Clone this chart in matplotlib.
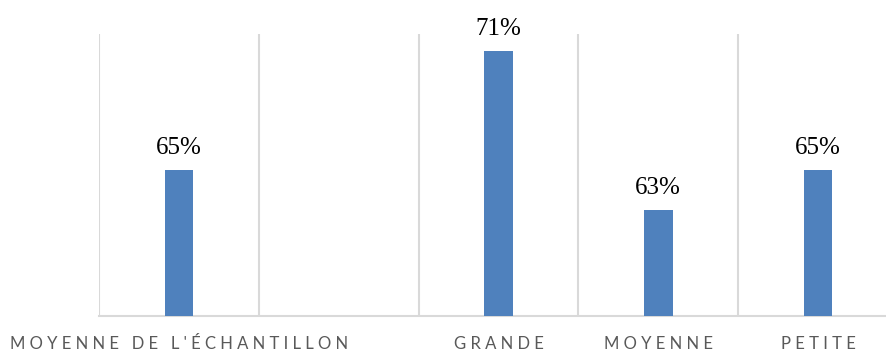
import numpy as np
import matplotlib.pyplot as plt

categories = ["MOYENNE DE L'ÉCHANTILLON", "", "GRANDE", "MOYENNE", "PETITE"]
values = [0.65, np.nan, 0.71, 0.63, 0.65]

W, H, DPI = 887, 352, 100
fig = plt.figure(figsize=(W / DPI, H / DPI), dpi=DPI)
# plot area runs past the right edge of the figure
ax = fig.add_axes([99 / W, 36 / H, 799 / W, 282 / H])

x = np.arange(len(categories))
ax.bar(x, values, width=0.18, color="#4f81bd", zorder=3)

for xi, v in zip(x, values):
    if np.isnan(v):
        continue
    ax.annotate(f"{v:.0%}", (xi, v), xytext=(0, 8), textcoords="offset points",
                ha="center", va="bottom", fontsize=18, family="Liberation Serif",
                color="black")

ax.set_xlim(-0.5, len(categories) - 0.5)
ax.set_ylim(0.5766, 0.7188)

# spaced-out capitals for the category names
def spaced(s):
    return " ".join(s)

ax.set_xticks(x)
ax.set_xticklabels([spaced(c) for c in categories], fontsize=12, family="Lato",
                   color="#595959")
ax.tick_params(axis="x", length=0, pad=14.5)
ax.set_yticks([])

ax.set_xticks(np.arange(len(categories) + 1) - 0.5, minor=True)
ax.tick_params(axis="x", which="minor", length=0)
ax.grid(which="minor", axis="x", color="#d9d9d9", linewidth=1.5, zorder=0)

for side in ["top", "right", "left"]:
    ax.spines[side].set_visible(False)
ax.spines["bottom"].set_color("#d9d9d9")
ax.spines["bottom"].set_linewidth(1.5)

fig.savefig("out.png", dpi=DPI)
